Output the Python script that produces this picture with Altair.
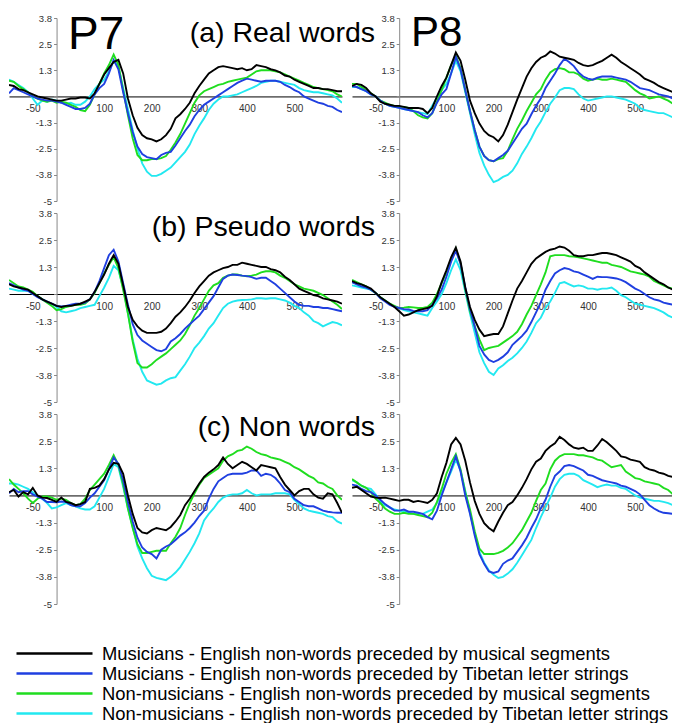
import altair as alt
import pandas as pd

TIME = list(range(-100, 601, 10))

SERIES = [
    "Musicians - English non-words preceded by musical segments",
    "Musicians - English non-words preceded by Tibetan letter strings",
    "Non-musicians - English non-words preceded by musical segments",
    "Non-musicians - English non-words preceded by Tibetan letter strings",
]
COLORS = ["#000000", "#1f3fe0", "#1fdd1f", "#22e8f0"]

# (a) Real words
REAL_P7_MM = [0.55, 0.5, 0.35, 0.3, 0.2, 0.1, 0.0, -0.05, -0.1, -0.15,
              -0.2, -0.2, -0.15, -0.1, -0.1, -0.05, -0.05, -0.1, 0.15, 0.6,
              1.05, 1.35, 1.65, 1.75, 1.1, -0.1, -0.9, -1.5, -1.85, -2.0,
              -2.05, -2.15, -2.05, -1.85, -1.55, -1.05, -0.85, -0.6, -0.3, 0.15,
              0.5, 0.8, 1.1, 1.25, 1.4, 1.45, 1.4, 1.35, 1.3, 1.35,
              1.25, 1.3, 1.5, 1.45, 1.4, 1.3, 1.25, 1.15, 1.0, 0.95,
              0.8, 0.7, 0.6, 0.5, 0.4, 0.4, 0.35, 0.35, 0.3, 0.25,
              0.25]
REAL_P7_MT = [0.15, 0.4, 0.3, 0.2, 0.1, 0.0, -0.1, -0.15, -0.2, -0.2,
              -0.25, -0.3, -0.4, -0.5, -0.6, -0.6, -0.55, -0.35, 0.1, 0.4,
              0.6, 1.1, 1.75, 1.3, 0.2, -0.8, -1.7, -2.4, -2.75, -2.9,
              -2.95, -3.0, -2.8, -2.7, -2.65, -2.35, -2.0, -1.65, -1.35, -0.95,
              -0.65, -0.4, -0.25, -0.1, 0.05, 0.2, 0.35, 0.5, 0.65, 0.75,
              0.85, 0.8, 0.75, 0.7, 0.75, 0.75, 0.75, 0.7, 0.55, 0.45,
              0.3, 0.2, 0.0, -0.1, -0.2, -0.3, -0.35, -0.45, -0.5, -0.65,
              -0.75]
REAL_P7_NM = [0.75, 0.7, 0.5, 0.35, 0.2, 0.0, -0.1, -0.2, -0.25, -0.2,
              -0.3, -0.25, -0.3, -0.4, -0.5, -0.65, -0.7, -0.4, 0.1, 0.6,
              1.1, 1.5, 2.0, 1.5, 0.3, -0.9, -2.0, -2.8, -3.05, -3.05,
              -3.0, -3.0, -2.95, -2.85, -2.55, -2.2, -1.8, -1.3, -0.8, -0.3,
              0.05, 0.25, 0.35, 0.45, 0.55, 0.6, 0.7, 0.75, 0.8, 0.85,
              0.9, 1.05, 1.2, 1.25, 1.25, 1.25, 1.2, 1.15, 1.05, 0.95,
              0.85, 0.75, 0.65, 0.55, 0.45, 0.4, 0.35, 0.3, 0.25, 0.1,
              0.0]
REAL_P7_NT = [0.8, 0.7, 0.55, 0.4, 0.2, -0.1, -0.4, -0.2, -0.25, -0.15,
              -0.2, -0.3, -0.35, -0.3, -0.4, -0.4, -0.25, 0.0, 0.35, 0.6,
              0.8, 1.2, 1.7, 1.4, 0.4, -0.6, -1.6, -2.5, -3.2, -3.6,
              -3.8, -3.8, -3.7, -3.55, -3.4, -3.15, -2.9, -2.65, -2.3, -1.8,
              -1.4, -1.05, -0.65, -0.35, -0.15, 0.0, 0.0, 0.05, 0.1, 0.2,
              0.3, 0.4, 0.5, 0.65, 0.7, 0.75, 0.75, 0.7, 0.65, 0.6,
              0.55, 0.4, 0.3, 0.25, 0.2, 0.2, 0.15, 0.1, 0.05, -0.1,
              -0.3]
REAL_P8_MM = [0.5, 0.6, 0.55, 0.4, 0.15, 0.0, -0.25, -0.35, -0.4, -0.45,
              -0.45, -0.5, -0.55, -0.55, -0.55, -0.6, -0.8, -0.55, 0.0, 0.5,
              0.9, 1.5, 2.1, 1.7, 0.8, -0.2, -0.8, -1.3, -1.65, -1.85,
              -1.95, -2.15, -1.85, -1.35, -0.75, -0.15, 0.4, 0.95, 1.35, 1.65,
              1.85, 1.95, 2.15, 2.05, 1.9, 1.85, 1.8, 1.75, 1.6, 1.5,
              1.45, 1.5, 1.6, 1.7, 1.85, 2.0, 1.85, 1.65, 1.5, 1.35,
              1.2, 1.05, 0.85, 0.75, 0.65, 0.5, 0.4, 0.3, 0.2, 0.15,
              0.1]
REAL_P8_MT = [0.5, 0.45, 0.35, 0.25, 0.1, 0.0, -0.2, -0.35, -0.45, -0.5,
              -0.55, -0.6, -0.65, -0.7, -0.75, -0.9, -1.0, -0.8, -0.3, 0.1,
              0.35, 1.1, 1.9, 1.3, 0.3, -0.7, -1.6, -2.4, -2.85, -3.05,
              -3.1, -2.95, -2.8, -2.6, -2.25, -1.9, -1.55, -1.3, -0.85, -0.45,
              -0.1, 0.4, 0.75, 1.1, 1.5, 1.8, 1.65, 1.45, 1.15, 0.95,
              0.85, 0.8, 0.9, 0.95, 0.95, 0.95, 0.9, 0.85, 0.8, 0.7,
              0.55, 0.4, 0.35, 0.3, 0.2, 0.1, 0.05, 0.0, -0.1, -0.35,
              -0.55]
REAL_P8_NM = [0.6, 0.6, 0.45, 0.3, 0.15, 0.0, -0.2, -0.3, -0.4, -0.45,
              -0.5, -0.5, -0.55, -0.7, -0.9, -1.0, -1.05, -0.8, -0.25, 0.3,
              0.9, 1.5, 1.95, 1.35, 0.3, -0.7, -1.6, -2.4, -2.85, -3.05,
              -3.1, -3.0, -2.95, -2.6, -2.05, -1.55, -1.15, -0.7, -0.3, 0.1,
              0.35, 0.8, 1.15, 1.3, 1.35, 1.3, 1.15, 1.15, 1.05, 0.85,
              0.75, 0.8, 0.85, 0.8, 0.8, 0.85, 0.8, 0.75, 0.7, 0.5,
              0.3, 0.15, 0.05, -0.1, -0.05, 0.0, -0.1, -0.2, -0.35, -0.55,
              -0.65]
REAL_P8_NT = [0.45, 0.45, 0.35, 0.25, 0.1, 0.0, -0.2, -0.35, -0.45, -0.5,
              -0.55, -0.6, -0.65, -0.7, -0.75, -0.8, -0.85, -0.45, -0.05, 0.3,
              0.6, 1.1, 1.7, 1.2, 0.2, -0.8, -1.8, -2.7, -3.3, -3.75,
              -4.1, -4.0, -3.85, -3.75, -3.55, -3.2, -2.75, -2.4, -2.0, -1.55,
              -1.2, -0.75, -0.35, -0.05, 0.3, 0.4, 0.4, 0.35, 0.1, -0.1,
              -0.2, -0.15, -0.1, -0.05, 0.0, 0.0, -0.05, -0.1, -0.15, -0.25,
              -0.35, -0.55, -0.65, -0.7, -0.75, -0.8, -0.8, -0.9, -1.0, -1.3,
              -1.55]

# (b) Pseudo words
PSEUDO_P7_MM = [0.45, 0.35, 0.3, 0.25, 0.2, 0.05, -0.1, -0.25, -0.35, -0.45,
                -0.55, -0.6, -0.55, -0.55, -0.5, -0.45, -0.35, -0.25, 0.1, 0.5,
                0.9, 1.4, 1.8, 1.4, 0.4, -0.6, -1.2, -1.5, -1.7, -1.8,
                -1.8, -1.8, -1.75, -1.6, -1.35, -1.05, -0.85, -0.6, -0.3, 0.05,
                0.35, 0.6, 0.85, 1.0, 1.1, 1.2, 1.25, 1.35, 1.35, 1.45,
                1.4, 1.35, 1.3, 1.25, 1.25, 1.15, 1.1, 1.0, 0.8, 0.65,
                0.45, 0.25, 0.15, 0.05, -0.05, -0.1, -0.2, -0.25, -0.3, -0.35,
                -0.45]
PSEUDO_P7_MT = [0.5, 0.4, 0.3, 0.2, 0.15, 0.0, -0.15, -0.25, -0.35, -0.45,
                -0.55, -0.58, -0.55, -0.5, -0.45, -0.45, -0.4, -0.25, 0.1, 0.6,
                1.2, 1.8, 2.05, 1.5, 0.5, -0.5, -1.4, -1.9, -2.15, -2.3,
                -2.45, -2.6, -2.65, -2.55, -2.2, -2.05, -1.85, -1.6, -1.4, -1.2,
                -1.0, -0.7, -0.4, -0.1, 0.3, 0.7, 0.85, 0.9, 0.88, 0.85,
                0.83, 0.78, 0.7, 0.75, 0.75, 0.6, 0.45, 0.25, 0.05, -0.15,
                -0.35, -0.5, -0.55, -0.55, -0.6, -0.6, -0.65, -0.65, -0.7, -0.75,
                -0.8]
PSEUDO_P7_NM = [0.65, 0.5, 0.35, 0.3, 0.2, 0.1, -0.1, -0.25, -0.4, -0.55,
                -0.75, -0.7, -0.6, -0.55, -0.5, -0.5, -0.45, -0.25, 0.05, 0.5,
                0.95, 1.35, 1.7, 1.2, 0.2, -0.9, -2.2, -3.2, -3.4, -3.4,
                -3.25, -3.05, -2.9, -2.75, -2.55, -2.35, -2.15, -1.85, -1.45, -1.0,
                -0.65, -0.25, 0.15, 0.4, 0.5, 0.75, 0.85, 0.9, 0.9, 0.85,
                0.82, 0.85, 0.9, 1.0, 1.05, 1.05, 1.0, 0.85, 0.75, 0.6,
                0.45, 0.35, 0.25, 0.2, 0.15, 0.05, -0.05, -0.2, -0.35, -0.5,
                -0.7]
PSEUDO_P7_NT = [0.25, 0.2, 0.15, 0.15, 0.15, 0.0, -0.1, -0.25, -0.35, -0.45,
                -0.6, -0.8, -0.85, -0.8, -0.75, -0.65, -0.6, -0.55, -0.5, -0.1,
                0.3, 0.75, 1.3, 1.1, 0.3, -0.9, -2.1, -3.0, -3.6, -4.0,
                -4.1, -4.2, -4.15, -4.0, -3.9, -3.85, -3.55, -3.25, -2.9, -2.5,
                -2.25, -1.95, -1.6, -1.35, -1.0, -0.65, -0.45, -0.35, -0.3, -0.28,
                -0.27, -0.25, -0.2, -0.2, -0.22, -0.2, -0.2, -0.25, -0.3, -0.4,
                -0.55, -0.65, -0.85, -1.0, -1.25, -1.35, -1.5, -1.4, -1.3, -1.35,
                -1.45]
PSEUDO_P8_MM = [0.6, 0.5, 0.45, 0.35, 0.25, 0.05, -0.15, -0.3, -0.45, -0.6,
                -0.8, -1.0, -0.95, -0.85, -0.75, -0.7, -0.65, -0.55, -0.1, 0.55,
                1.1, 1.7, 2.15, 1.5, 0.3, -0.6, -1.2, -1.65, -1.95, -1.9,
                -1.85, -1.85, -1.5, -0.9, -0.3, 0.25, 0.6, 1.0, 1.4, 1.65,
                1.8, 1.95, 2.05, 2.1, 2.2, 2.15, 2.0, 1.8, 1.75, 1.75,
                1.8, 1.8, 1.85, 1.9, 1.9, 1.85, 1.8, 1.7, 1.6, 1.5,
                1.3, 1.2, 1.0, 0.85, 0.7, 0.55, 0.45, 0.3, 0.2, 0.05,
                -0.05]
PSEUDO_P8_MT = [0.55, 0.45, 0.35, 0.3, 0.2, 0.05, -0.2, -0.35, -0.5, -0.6,
                -0.65, -0.7, -0.72, -0.78, -0.8, -0.8, -0.75, -0.5, -0.2, 0.2,
                0.8, 1.5, 2.0, 1.4, 0.3, -0.7, -1.5, -2.4, -2.8, -3.05,
                -3.15, -3.05, -2.9, -2.7, -2.35, -2.15, -1.95, -1.7, -1.3, -0.85,
                -0.4, 0.2, 0.6, 0.95, 1.1, 1.2, 1.15, 1.05, 1.0, 0.9,
                0.8, 0.7, 0.8, 0.78, 0.78, 0.75, 0.72, 0.65, 0.55, 0.4,
                0.25, 0.15, 0.0, -0.15, -0.25, -0.3, -0.4, -0.45, -0.5, -0.65,
                -0.75]
PSEUDO_P8_NM = [0.65, 0.55, 0.45, 0.35, 0.2, 0.05, -0.15, -0.3, -0.45, -0.55,
                -0.65, -0.63, -0.6, -0.62, -0.65, -0.65, -0.6, -0.4, 0.0, 0.5,
                1.0, 1.6, 2.1, 1.4, 0.2, -0.8, -1.5, -2.1, -2.6, -2.5,
                -2.45, -2.4, -2.25, -2.1, -1.95, -1.75, -1.4, -0.95, -0.55, -0.05,
                0.45, 1.0, 1.75, 1.8, 1.8, 1.8, 1.75, 1.73, 1.7, 1.65,
                1.6, 1.55, 1.5, 1.45, 1.45, 1.35, 1.3, 1.25, 1.15, 1.05,
                1.0, 0.95, 0.9, 0.8, 0.6, 0.5, 0.4, 0.3, 0.25, 0.05,
                -0.2]
PSEUDO_P8_NT = [0.4, 0.35, 0.3, 0.25, 0.2, 0.05, -0.15, -0.3, -0.45, -0.6,
                -0.65, -0.75, -0.8, -0.85, -0.9, -0.95, -1.0, -0.65, -0.35, 0.0,
                0.5, 1.1, 1.6, 1.1, 0.1, -0.9, -1.8, -2.7, -3.2, -3.6,
                -3.75, -3.45, -3.3, -3.1, -2.95, -2.75, -2.5, -2.2, -1.8, -1.35,
                -1.1, -0.65, -0.35, 0.05, 0.5, 0.55, 0.45, 0.35, 0.4, 0.35,
                0.25, 0.25, 0.2, 0.25, 0.25, 0.3, 0.15, -0.05, -0.15, -0.3,
                -0.45, -0.5, -0.55, -0.6, -0.65, -0.75, -0.85, -1.0, -1.1, -1.3,
                -1.45]

# (c) Non words
NON_P7_MM = [0.15, 0.25, -0.05, 0.15, 0.05, 0.35, 0.0, -0.1, -0.12, -0.2,
             -0.3, -0.1, -0.3, -0.35, -0.45, -0.4, -0.3, 0.3, 0.35, 0.45,
             0.75, 1.2, 1.5, 1.45, 1.0, 0.0, -0.85, -1.5, -1.7, -1.75,
             -1.6, -1.5, -1.55, -1.6, -1.45, -1.2, -0.9, -0.45, -0.15, 0.2,
             0.55, 0.85, 1.05, 1.2, 1.4, 1.75, 1.45, 1.25, 1.4, 1.55,
             1.45, 1.3, 1.15, 1.4, 1.35, 1.3, 1.25, 0.85, 0.5, 0.25,
             0.0, 0.2, 0.3, 0.3, 0.05, -0.1, -0.15, 0.1, 0.05, -0.35,
             -0.8]
NON_P7_MT = [0.1, 0.3, 0.15, 0.2, 0.2, 0.05, -0.05, -0.15, -0.3, -0.3,
             -0.32, -0.28, -0.3, -0.45, -0.5, -0.5, -0.35, -0.1, 0.1, 0.4,
             0.7, 1.2, 1.75, 1.45, 0.7, -0.3, -1.2, -1.95, -2.4, -2.6,
             -2.7, -2.9, -2.5, -2.35, -2.25, -2.05, -1.85, -1.7, -1.5, -1.25,
             -0.95, -0.7, -0.15, 0.3, 0.65, 0.8, 0.95, 1.0, 1.0, 1.0,
             1.05, 1.15, 1.15, 0.9, 1.0, 0.95, 0.8, 0.55, 0.25, 0.15,
             -0.15, -0.3, -0.45, -0.5, -0.5, -0.6, -0.7, -0.75, -0.78, -0.8,
             -0.8]
NON_P7_NM = [0.75, 0.5, 0.3, 0.1, -0.15, -0.35, -0.15, -0.05, -0.05, -0.1,
             -0.2, -0.15, -0.2, -0.35, -0.45, -0.4, -0.15, 0.25, 0.5, 0.75,
             1.0, 1.4, 1.85, 1.4, 0.5, -0.6, -1.5, -2.25, -2.65, -2.65,
             -2.6, -2.55, -2.55, -2.55, -2.2, -1.9, -1.5, -0.9, -0.35, 0.1,
             0.5, 0.8, 0.95, 1.1, 1.25, 1.6, 1.8, 1.9, 2.05, 2.1,
             2.25, 2.15, 2.0, 1.9, 1.85, 1.75, 1.7, 1.65, 1.55, 1.45,
             1.3, 1.2, 1.05, 0.9, 0.8, 0.6, 0.55, 0.4, 0.3, 0.0,
             -0.2]
NON_P7_NT = [0.55, 0.55, 0.5, 0.4, 0.3, 0.15, -0.05, -0.15, -0.35, -0.6,
             -0.55, -0.45, -0.35, -0.45, -0.5, -0.6, -0.65, -0.65, -0.5, -0.1,
             0.3, 0.85, 1.45, 1.3, 0.4, -0.6, -1.45, -2.35, -2.9, -3.35,
             -3.7, -3.8, -3.85, -3.9, -3.75, -3.55, -3.3, -2.95, -2.6, -2.2,
             -1.75, -1.15, -0.85, -0.6, -0.3, -0.1, 0.0, 0.05, 0.05, 0.1,
             0.25, 0.1, 0.0, 0.05, 0.05, 0.05, 0.1, 0.1, 0.1, 0.05,
             -0.2, -0.4, -0.6, -0.7, -0.75, -0.8, -0.85, -0.95, -1.0, -1.2,
             -1.3]
NON_P8_MM = [0.35, 0.4, 0.25, 0.1, -0.05, -0.1, -0.12, -0.1, -0.15, -0.2,
             -0.25, -0.2, -0.2, -0.3, -0.25, -0.3, -0.35, -0.2, 0.1, 0.85,
             1.5, 2.35, 2.65, 2.35, 1.6, 0.6, -0.25, -0.85, -1.28, -1.5,
             -1.65, -1.2, -0.8, -0.45, -0.3, 0.0, 0.35, 0.75, 1.2, 1.55,
             1.7, 2.05, 2.25, 2.4, 2.7, 2.55, 2.35, 2.2, 2.15, 2.2,
             2.05, 2.05, 2.3, 2.6, 2.45, 2.25, 2.05, 1.8, 1.75, 1.65,
             1.6, 1.55, 1.3, 1.2, 1.15, 1.05, 1.0, 0.9, 0.85, 0.8,
             0.8]
NON_P8_MT = [0.5, 0.45, 0.3, 0.2, 0.15, 0.0, -0.2, -0.4, -0.55, -0.7,
             -0.7, -0.65, -0.75, -0.75, -0.8, -0.85, -1.0, -1.1, -0.7, 0.0,
             0.6, 1.2, 1.8, 1.1, 0.0, -0.85, -1.85, -2.7, -3.15, -3.5,
             -3.57, -3.5, -3.15, -3.0, -2.9, -2.6, -2.3, -1.95, -1.5, -1.1,
             -0.6, -0.2, 0.4, 0.9, 1.1, 1.35, 1.4, 1.35, 1.25, 1.15,
             0.95, 0.9, 0.8, 0.7, 0.65, 0.6, 0.55, 0.45, 0.4, 0.3,
             0.2, 0.05, -0.2, -0.45, -0.6, -0.72, -0.8, -0.82, -0.85, -0.95,
             -1.0]
NON_P8_NM = [0.75, 0.6, 0.45, 0.35, 0.15, -0.15, -0.35, -0.6, -0.75, -0.85,
             -0.85, -0.8, -0.85, -0.85, -0.9, -0.95, -1.0, -0.8, -0.3, 0.3,
             1.0, 1.5, 1.9, 1.2, 0.15, -0.65, -1.65, -2.45, -2.7, -2.7,
             -2.7, -2.65, -2.55, -2.4, -2.2, -1.9, -1.6, -1.2, -0.8, -0.25,
             0.25, 0.55, 1.2, 1.6, 1.8, 1.9, 1.9, 1.9, 1.85, 1.85,
             1.8, 1.75, 1.65, 1.6, 1.45, 1.3, 1.35, 1.4, 1.1, 0.95,
             0.8, 0.75, 0.65, 0.6, 0.55, 0.5, 0.35, 0.25, 0.05, -0.25,
             -0.55]
NON_P8_NT = [0.7, 0.6, 0.45, 0.35, 0.3, 0.05, -0.25, -0.45, -0.55, -0.65,
             -0.7, -0.75, -0.8, -0.85, -0.85, -0.85, -0.75, -0.65, -0.35, 0.1,
             0.6, 1.1, 1.65, 1.15, 0.2, -0.8, -1.75, -2.6, -3.1, -3.45,
             -3.65, -3.8, -3.75, -3.6, -3.4, -3.1, -2.75, -2.4, -2.05, -1.5,
             -1.0, -0.55, -0.1, 0.4, 0.75, 0.95, 1.0, 1.0, 0.9, 0.7,
             0.6, 0.5, 0.38, 0.45, 0.5, 0.45, 0.45, 0.35, 0.3, 0.15,
             0.0, -0.1, -0.15, -0.2, -0.25, -0.25, -0.3, -0.35, -0.45, -0.55,
             -0.7]

Y_TICKS = [-5, -3.75, -2.5, -1.25, 0, 1.25, 2.5, 3.75]
Y_LABELS = ["-5", "-3.8", "-2.5", "-1.3", "", "1.3", "2.5", "3.8"]
X_TICKS = [-50, 100, 200, 300, 400, 500]

ROW_TITLES = ["(a) Real words", "(b) Pseudo words", "(c) Non words"]
ROW_HEIGHTS = [183, 189, 190]
ROW_SUB_Y = [24, 23, 22]
LEFT_DATA = [
    [REAL_P7_MM, REAL_P7_MT, REAL_P7_NM, REAL_P7_NT],
    [PSEUDO_P7_MM, PSEUDO_P7_MT, PSEUDO_P7_NM, PSEUDO_P7_NT],
    [NON_P7_MM, NON_P7_MT, NON_P7_NM, NON_P7_NT],
]
RIGHT_DATA = [
    [REAL_P8_MM, REAL_P8_MT, REAL_P8_NM, REAL_P8_NT],
    [PSEUDO_P8_MM, PSEUDO_P8_MT, PSEUDO_P8_NM, PSEUDO_P8_NT],
    [NON_P8_MM, NON_P8_MT, NON_P8_NM, NON_P8_NT],
]

for grp in LEFT_DATA + RIGHT_DATA:
    for s in grp:
        assert len(s) == len(TIME), len(s)

FONT = "Liberation Sans"
LEFT_W, LEFT_XMAX = 333, 600
RIGHT_W, RIGHT_XMAX = 320, 578

y_expr = " : ".join(
    f"datum.value == {v} ? '{lab}'" for v, lab in zip(Y_TICKS, Y_LABELS)
) + " : ''"

LEGEND = alt.Legend(
    title=None, orient="none", legendX=6, legendY=627,
    symbolType="stroke", symbolSize=5776, symbolStrokeWidth=2.5,
    clipHeight=17, rowPadding=1, labelFontSize=18.4, labelFont=FONT,
    labelColor="#000000", labelLimit=800, labelOffset=8, padding=0,
)


def panel(series_lists, width, xmax, height, big, big_size, big_x, big_y, sub=None, sub_y=0):
    rows = []
    order = [3, 2, 1, 0]
    for i in order:
        for t, v in zip(TIME, series_lists[i]):
            rows.append({"t": t, "v": v, "series": SERIES[i]})
    df = pd.DataFrame(rows)
    px_per = width / (xmax + 100)
    zero_from_bottom = height * 5 / 8.75
    lines = alt.Chart(df).mark_line(strokeWidth=1.9, clip=True).encode(
        x=alt.X("t:Q",
                scale=alt.Scale(domain=[-100, xmax], nice=False, zero=False),
                axis=alt.Axis(values=X_TICKS, labelExpr="'' + datum.value",
                              offset=-zero_from_bottom, title=None, grid=False,
                              ticks=False, tickSize=0, labelPadding=7,
                              domainColor="#000000", domainWidth=1,
                              labelFontSize=10, labelColor="#333333",
                              labelFont=FONT, labelFlush=False)),
        y=alt.Y("v:Q",
                scale=alt.Scale(domain=[-5, 3.75], nice=False, zero=False),
                axis=alt.Axis(values=Y_TICKS, labelExpr=y_expr,
                              offset=-100 * px_per, title=None, grid=False,
                              tickSize=3, tickColor="#888888",
                              domainColor="#888888", labelPadding=2,
                              labelFontSize=9.5, labelColor="#333333",
                              labelFont=FONT, labelFlush=False)),
        color=alt.Color("series:N",
                        scale=alt.Scale(domain=SERIES, range=COLORS),
                        legend=LEGEND),
    )
    layers = [lines]
    if big:
        big_txt = alt.Chart(pd.DataFrame({"label": [big]})).mark_text(
            align="left", baseline="alphabetic", fontSize=big_size, font=FONT,
            color="#000000"
        ).encode(x=alt.value(big_x), y=alt.value(big_y), text="label:N")
        layers.append(big_txt)
    if sub:
        sub_txt = alt.Chart(pd.DataFrame({"label": [sub]})).mark_text(
            align="right", baseline="alphabetic", fontSize=28.5, font=FONT,
            color="#000000"
        ).encode(x=alt.value(366), y=alt.value(sub_y), text="label:N")
        layers.append(sub_txt)
    return alt.layer(*layers).properties(width=width, height=height)


cells = []
for r in range(3):
    cells.append(panel(LEFT_DATA[r], LEFT_W, LEFT_XMAX, ROW_HEIGHTS[r],
                       "P7" if r == 0 else "", 46, 59, 31,
                       ROW_TITLES[r], ROW_SUB_Y[r]))
    cells.append(panel(RIGHT_DATA[r], RIGHT_W, RIGHT_XMAX, ROW_HEIGHTS[r],
                       "P8" if r == 0 else "", 42, 59, 28))

chart = alt.concat(
    *cells, columns=2, spacing={"row": 12, "column": 10}, bounds="flush"
).properties(
    padding={"left": 1, "top": 4, "right": 0, "bottom": 0}
).configure_view(strokeWidth=0)

chart.save("out.html", embed_options={"renderer": "svg", "actions": False})
